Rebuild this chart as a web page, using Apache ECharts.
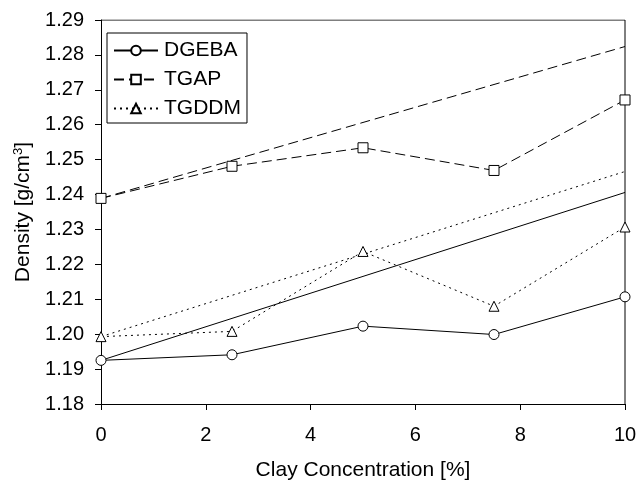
<!DOCTYPE html>
<html>
<head>
<meta charset="utf-8">
<script src="https://cdn.jsdelivr.net/npm/echarts@6/dist/echarts.min.js"></script>
<style>
  html, body { margin: 0; padding: 0; background: #fff; }
  #chart { width: 639px; height: 481px; }
</style>
</head>
<body>
<div id="chart"></div>
<script>
// clay content [%]
const clay = [0, 2.5, 5, 7.5, 10];
// measured densities
const dgeba = [1.1925, 1.1941, 1.2023, 1.1999, 1.2107];
const tgap = [1.2389, 1.2481, 1.2534, 1.2469, 1.2671];
const tgddm = [1.1993, 1.2008, 1.2237, 1.2080, 1.2307];
// straight lines (calculated), endpoints at 0 and 10 %
const calcX = [0, 10];
const dgebaCalc = [1.1925, 1.2406];
const tgapCalc = [1.2389, 1.2824];
const tgddmCalc = [1.1993, 1.2466];

const pairs = (xs, ys) => xs.map((x, i) => [x, ys[i]]);
const font = 'Liberation Sans, Arial, sans-serif';

const chart = echarts.init(document.getElementById('chart'));

const markSeries = (name, data, symbol, lineType) => ({
  name: name,
  type: 'line',
  data: pairs(clay, data),
  symbol: symbol,
  symbolSize: 10,
  showAllSymbol: true,
  z: 3,
  lineStyle: { color: '#000', width: 1, type: lineType },
  itemStyle: { color: '#fff', borderColor: '#000', borderWidth: 1 }
});

const calcSeries = (data, lineType) => ({
  type: 'line',
  data: pairs(calcX, data),
  symbol: 'none',
  z: 2,
  lineStyle: { color: '#000', width: 1, type: lineType }
});

chart.setOption({
  animation: false,
  textStyle: { fontFamily: font },
  grid: { left: 101, right: 14, top: 20, bottom: 77, outerBoundsMode: 'none', containLabel: false },
  legend: {
    data: ['DGEBA', 'TGAP', 'TGDDM'],
    orient: 'vertical',
    left: 107,
    top: 33,
    itemWidth: 44,
    itemHeight: 12,
    itemGap: 8,
    padding: [7, 6, 4, 6],
    borderColor: '#000',
    borderWidth: 1,
    backgroundColor: '#fff',
    textStyle: { fontSize: 21, color: '#000', fontFamily: font, padding: [0, 0, 0, 1] }
  },
  xAxis: {
    type: 'value',
    min: 0,
    max: 10,
    interval: 2,
    name: 'Clay Concentration [%]',
    nameLocation: 'middle',
    nameGap: 56,
    nameTextStyle: { fontSize: 21, color: '#000', fontFamily: font },
    axisLine: { onZero: false, lineStyle: { color: '#000', width: 1 } },
    axisTick: { show: true, length: 6, lineStyle: { color: '#000' } },
    axisLabel: { fontSize: 20, color: '#000', margin: 21 },
    splitLine: { show: false }
  },
  yAxis: {
    type: 'value',
    min: 1.18,
    max: 1.29,
    interval: 0.01,
    name: 'Density [g/cm{sup|3}]',
    nameLocation: 'middle',
    nameGap: 66,
    nameTextStyle: {
      fontSize: 21, color: '#000', fontFamily: font,
      rich: { sup: { fontSize: 13, color: '#000', verticalAlign: 'top', padding: [0, 0, 10, 0] } }
    },
    axisLine: { show: true, onZero: false, lineStyle: { color: '#000', width: 1 } },
    axisTick: { show: true, length: 6, lineStyle: { color: '#000' } },
    axisLabel: { fontSize: 20, color: '#000', margin: 17, formatter: v => v.toFixed(2) },
    splitLine: { show: false }
  },
  series: [
    // frame lines on top and right
    {
      type: 'line', data: [[0, 1.29], [10, 1.29], [10, 1.18]], symbol: 'none', z: 1,
      lineStyle: { color: '#000', width: 1 }, silent: true
    },
    calcSeries(dgebaCalc, 'solid'),
    calcSeries(tgapCalc, [10, 5]),
    calcSeries(tgddmCalc, [2, 4]),
    markSeries('DGEBA', dgeba, 'circle', 'solid'),
    markSeries('TGAP', tgap, 'rect', [10, 5]),
    markSeries('TGDDM', tgddm, 'triangle', [2, 4])
  ]
});
</script>
</body>
</html>
